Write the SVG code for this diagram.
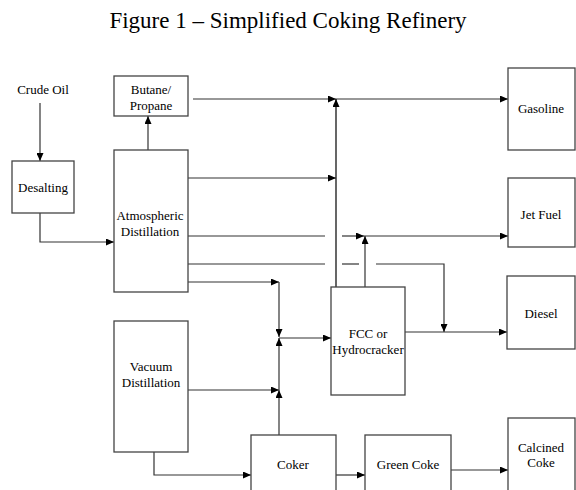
<svg xmlns="http://www.w3.org/2000/svg" width="576" height="490" viewBox="0 0 576 490">
<style>
  .box { fill: #fff; stroke: #444; stroke-width: 1.3; }
  .lbl { font-family: "Liberation Serif", "Times New Roman", serif; font-size: 13px; fill: #000; text-anchor: middle; }
  .title { font-family: "Liberation Serif", "Times New Roman", serif; font-size: 23px; fill: #000; text-anchor: middle; }
  .c { fill: none; stroke: #333; stroke-width: 1.2; }
  .k { stroke: #000; }
  .a { marker-end: url(#arr); }
</style>
<defs>
  <marker id="arr" markerUnits="userSpaceOnUse" markerWidth="8" markerHeight="7" refX="8" refY="3.5" orient="auto">
    <path d="M0,0 L8,3.5 L0,7 z" fill="#000"/>
  </marker>
</defs>
<rect width="576" height="490" fill="#fff"/>
<text class="title" x="288" y="28">Figure 1 – Simplified Coking Refinery</text>

<g id="connectors">
  <path class="c a" d="M40,103 V161"/>
  <path class="c a" d="M40,213 V242 H114"/>
  <path class="c a" d="M148,150 V116"/>
  <path class="c a" d="M193,99 H336"/>
  <path class="c a" d="M336,99 H508"/>
  <path class="c k a" d="M336,287 V99"/>
  <path class="c a" d="M188,178 H336"/>
  <path class="c" d="M188,236 H325"/>
  <path class="c a" d="M342,236 H364"/>
  <path class="c a" d="M364,236 H508"/>
  <path class="c a" d="M365,287 V236"/>
  <path class="c" d="M188,264 H325"/>
  <path class="c" d="M342,264 H359"/>
  <path class="c a" d="M376,264 H444 V332"/>
  <path class="c a" d="M405,332 H507"/>
  <path class="c a" d="M188,282 H279"/>
  <path class="c a" d="M279,282 V337"/>
  <path class="c a" d="M279,338 H331"/>
  <path class="c a" d="M188,390 H279"/>
  <path class="c a" d="M279,435 V390"/>
  <path class="c a" d="M279,390 V338"/>
  <path class="c a" d="M154,452 V475 H251"/>
  <path class="c a" d="M336,475 H365"/>
  <path class="c a" d="M451,470 H508"/>
</g>

<text id="crude-oil" class="lbl" x="43" y="94">Crude Oil</text>

<g id="desalting">
  <rect class="box" x="12" y="161" width="62" height="52"/>
  <text class="lbl" x="43" y="192">Desalting</text>
</g>
<g id="butane-propane">
  <rect class="box" x="114" y="76" width="74" height="40"/>
  <text class="lbl" x="151" y="94">Butane/</text>
  <text class="lbl" x="151" y="110">Propane</text>
</g>
<g id="atmospheric">
  <rect class="box" x="114" y="150" width="74" height="142"/>
  <text class="lbl" x="150" y="220">Atmospheric</text>
  <text class="lbl" x="150" y="236">Distillation</text>
</g>
<g id="vacuum">
  <rect class="box" x="114" y="321" width="74" height="131"/>
  <text class="lbl" x="151" y="371">Vacuum</text>
  <text class="lbl" x="151" y="387">Distillation</text>
</g>
<g id="fcc">
  <rect class="box" x="331" y="287" width="74" height="108"/>
  <text class="lbl" x="368" y="338">FCC or</text>
  <text class="lbl" x="368" y="354">Hydrocracker</text>
</g>
<g id="gasoline">
  <rect class="box" x="508" y="68" width="67" height="82"/>
  <text class="lbl" x="541" y="113">Gasoline</text>
</g>
<g id="jet-fuel">
  <rect class="box" x="508" y="178" width="67" height="69"/>
  <text class="lbl" x="541" y="219">Jet Fuel</text>
</g>
<g id="diesel">
  <rect class="box" x="507" y="276" width="68" height="73"/>
  <text class="lbl" x="541" y="318">Diesel</text>
</g>
<g id="coker">
  <rect class="box" x="251" y="435" width="85" height="70"/>
  <text class="lbl" x="293" y="469">Coker</text>
</g>
<g id="green-coke">
  <rect class="box" x="365" y="435" width="86" height="70"/>
  <text class="lbl" x="408" y="469">Green Coke</text>
</g>
<g id="calcined-coke">
  <rect class="box" x="508" y="418" width="67" height="90"/>
  <text class="lbl" x="541" y="452">Calcined</text>
  <text class="lbl" x="541" y="467">Coke</text>
</g>
</svg>
